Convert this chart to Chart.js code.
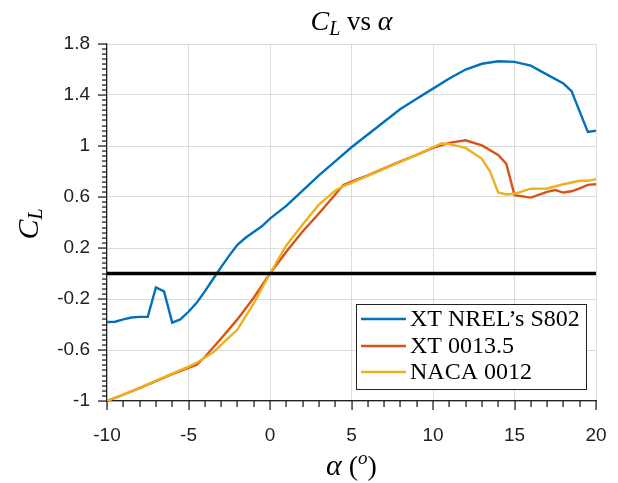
<!DOCTYPE html>
<html><head><meta charset="utf-8">
<script src="https://cdn.jsdelivr.net/npm/chart.js@4.4.0/dist/chart.umd.min.js"></script>
<style>html,body{margin:0;padding:0;background:#fff}</style>
</head><body>
<canvas id="c" width="618" height="483"></canvas>
<script>
// ---- data ----
const seriesLabels = ["XT NREL\u2019s S802", "XT 0013.5", "NACA 0012"];
const seriesColors = ["#0072BD", "#D95319", "#EDB120"];

const s802Alpha = [-10,-9.5,-9,-8.5,-8,-7.5,-7,-6.5,-6,-5.5,-5,-4.5,-4,-3.5,-3,-2.5,-2,-1.5,-1,-0.5,0,1,2,3,4,5,6,7,8,9,10,11,12,13,14,15,16,17,18,18.5,19.5,20];
const s802CL    = [-0.38,-0.378,-0.36,-0.345,-0.34,-0.34,-0.11,-0.14,-0.385,-0.36,-0.30,-0.23,-0.14,-0.045,0.05,0.14,0.225,0.28,0.325,0.37,0.43,0.53,0.65,0.77,0.88,0.99,1.09,1.19,1.29,1.37,1.45,1.53,1.6,1.645,1.665,1.66,1.63,1.56,1.49,1.43,1.11,1.12];

const xt13Alpha = [-10,-9,-8,-7,-6,-5,-4.5,-4,-3,-2,-1,0,1,2,3,4,4.5,5,6,7,8,9,10,11,12,13,14,14.5,15,16,17,17.5,18,18.5,19,19.5,20];
const xt13CL    = [-1.0,-0.95,-0.9,-0.845,-0.79,-0.74,-0.715,-0.655,-0.51,-0.36,-0.19,0,0.17,0.33,0.47,0.62,0.695,0.72,0.77,0.825,0.88,0.93,0.985,1.025,1.045,1.005,0.93,0.86,0.615,0.595,0.64,0.655,0.635,0.645,0.667,0.695,0.70];

const naca12Alpha = [-10,-9,-8,-7,-6,-5,-4.5,-3.5,-3,-2,-1,0,1,2,3,4,4.5,5,6,7,8,9,10,10.5,11,12,13,13.5,14,14.5,15,16,17,18,19,19.5,20];
const naca12CL    = [-1.0,-0.95,-0.895,-0.84,-0.785,-0.73,-0.70,-0.62,-0.56,-0.44,-0.235,0,0.22,0.385,0.54,0.65,0.685,0.71,0.765,0.82,0.875,0.93,0.99,1.02,1.015,0.985,0.9,0.8,0.635,0.62,0.625,0.665,0.667,0.70,0.727,0.727,0.74];

const zeroAlpha = [-10, 20];
const zeroCL = [0, 0];

const xTicks = [-10,-5,0,5,10,15,20];
const yTicks = [-1,-0.6,-0.2,0.2,0.6,1,1.4,1.8];

const pts = (a, b) => a.map((v, i) => ({x: v, y: b[i]}));

const SERIF = '"Liberation Serif", "DejaVu Serif", serif';
const SANS = '"Liberation Sans", Arial, sans-serif';
const INK = '#222222';

function drawRuns(ctx, runs, cx, baseY) {
  let w = 0;
  runs.forEach(r => { ctx.font = r.font; w += ctx.measureText(r.t).width; });
  let x = cx - w / 2;
  runs.forEach(r => {
    ctx.font = r.font;
    ctx.fillText(r.t, x, baseY + (r.dy || 0));
    x += ctx.measureText(r.t).width;
  });
}

const decor = {
  id: 'decor',
  afterDraw(chart) {
    const ctx = chart.ctx;
    const a = chart.chartArea;
    const xs = chart.scales.x, ys = chart.scales.y;
    ctx.save();
    // tick marks (major + minor), outward
    ctx.fillStyle = INK;
    const bottom = Math.round(a.bottom);
    for (let v = -10; v <= 20; v += 1) {
      const px = Math.round(xs.getPixelForValue(v));
      const len = (Math.abs(v) % 5 === 0) ? 9 : 6;
      ctx.fillRect(px - 0.6, bottom, 1.3, len);
    }
    const left = Math.round(a.left);
    for (let i = 0; i <= 70; i++) {
      const v = -1 + i * 0.04;
      const py = Math.round(ys.getPixelForValue(v));
      const len = (i % 10 === 0) ? 9 : 5;
      ctx.fillRect(left - len, py - 0.6, len, 1.3);
    }

    // titles
    ctx.fillStyle = '#000';
    ctx.textBaseline = 'alphabetic';
    ctx.textAlign = 'left';
    const cx = (a.left + a.right) / 2;
    drawRuns(ctx, [
      {t: 'C', font: `italic 28px ${SERIF}`},
      {t: 'L', font: `italic 20px ${SERIF}`, dy: 5},
      {t: ' vs ', font: `27px ${SERIF}`},
      {t: '\u03B1', font: `italic 28px ${SERIF}`}
    ], cx, 30);

    drawRuns(ctx, [
      {t: '\u03B1', font: `italic 30px ${SERIF}`},
      {t: ' (', font: `28px ${SERIF}`},
      {t: 'o', font: `italic 19px ${SERIF}`, dy: -11},
      {t: ')', font: `28px ${SERIF}`}
    ], cx, 475);

    ctx.save();
    ctx.translate(38, 224);
    ctx.rotate(-Math.PI / 2);
    drawRuns(ctx, [
      {t: 'C', font: `italic 30px ${SERIF}`},
      {t: 'L', font: `italic 20px ${SERIF}`, dy: 4}
    ], 0, 0);
    ctx.restore();

    // legend
    const bx = 356, by = 304, bw = 230, bh = 85;
    ctx.fillStyle = '#fff';
    ctx.fillRect(bx, by, bw, bh);
    ctx.strokeStyle = INK; ctx.lineWidth = 1;
    ctx.strokeRect(bx + 0.5, by + 0.5, bw, bh);
    const rows = [319, 346, 372];
    ctx.textBaseline = 'middle';
    seriesLabels.forEach((lab, i) => {
      ctx.strokeStyle = seriesColors[i]; ctx.lineWidth = 2.4;
      ctx.beginPath(); ctx.moveTo(361, rows[i]); ctx.lineTo(406, rows[i]); ctx.stroke();
      ctx.fillStyle = '#000';
      ctx.font = `24px ${SERIF}`;
      ctx.fillText(lab, 410, rows[i] + 1);
    });
    ctx.restore();
  }
};

new Chart(document.getElementById('c'), {
  type: 'line',
  data: {
    datasets: [
      {label: 'zero', data: pts(zeroAlpha, zeroCL), borderColor: '#000', borderWidth: 3.5, order: 0},
      {label: seriesLabels[2], data: pts(naca12Alpha, naca12CL), borderColor: seriesColors[2], order: 1},
      {label: seriesLabels[1], data: pts(xt13Alpha, xt13CL), borderColor: seriesColors[1], order: 2},
      {label: seriesLabels[0], data: pts(s802Alpha, s802CL), borderColor: seriesColors[0], order: 3}
    ].map(d => Object.assign({borderWidth: 2.4, pointRadius: 0, tension: 0, fill: false}, d))
  },
  options: {
    responsive: false,
    animation: false,
    devicePixelRatio: 1,
    layout: {padding: {left: 0, top: 44, right: 22, bottom: 0}},
    plugins: {legend: {display: false}, title: {display: false}, tooltip: {enabled: false}},
    scales: {
      x: {
        type: 'linear', min: -10, max: 20,
        afterFit: s => { s.height = 82; s.paddingLeft = 0; s.paddingRight = 0; },
        afterBuildTicks: s => { s.ticks = xTicks.map(v => ({value: v})); },
        ticks: {font: {family: SANS, size: 19}, color: INK, padding: 23, maxRotation: 0,
                callback: v => String(v)},
        grid: {color: '#dcdcdc', lineWidth: 1, drawTicks: false},
        border: {color: INK, width: 1.2}
      },
      y: {
        type: 'linear', min: -1, max: 1.8,
        afterFit: s => { s.width = 107; s.paddingTop = 0; s.paddingBottom = 0; },
        afterBuildTicks: s => { s.ticks = yTicks.map(v => ({value: v})); },
        ticks: {font: {family: SANS, size: 19}, color: INK, padding: 17,
                callback: v => String(Math.round(v * 10) / 10)},
        grid: {color: '#dcdcdc', lineWidth: 1, drawTicks: false},
        border: {color: INK, width: 1.2}
      }
    }
  },
  plugins: [decor]
});
</script>
</body></html>
